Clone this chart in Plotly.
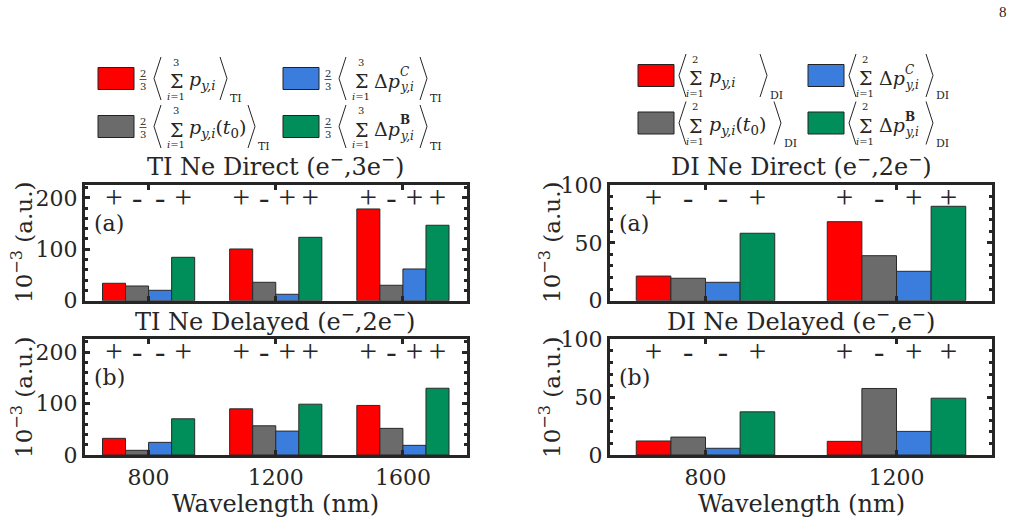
import plotly.graph_objects as go

W, H = 1018, 525
FONT = "DejaVu Serif"
SIGNFONT = "Liberation Serif"
TXT = "#262626"
FR = "#262626"

# ---------------- data ----------------
wl_ti = [800, 1200, 1600]
wl_di = [800, 1200]

ti_direct_total = [33.9, 100.6, 178.4]
ti_direct_t0 = [28.6, 35.8, 30.0]
ti_direct_dpc = [20.2, 12.5, 61.7]
ti_direct_dpb = [84.4, 123.3, 146.7]

ti_delayed_total = [32.4, 89.8, 96.4]
ti_delayed_t0 = [9.1, 56.8, 51.8]
ti_delayed_dpc = [24.6, 46.5, 18.8]
ti_delayed_dpb = [70.4, 98.8, 129.8]

di_direct_total = [21.3, 68.3]
di_direct_t0 = [19.4, 38.9]
di_direct_dpc = [15.9, 25.4]
di_direct_dpb = [58.3, 81.6]

di_delayed_total = [12.1, 11.8]
di_delayed_t0 = [15.5, 57.5]
di_delayed_dpc = [5.8, 20.4]
di_delayed_dpb = [37.3, 49.1]

# sign of each series at each wavelength (series order: total, t0, dpC, dpB)
ti_signs = [["+", "-", "-", "+"], ["+", "-", "+", "+"], ["+", "-", "+", "+"]]
di_signs = [["+", "-", "-", "+"], ["+", "-", "+", "+"]]

series_colors = ["#ff0000", "#6b6b6b", "#3b7ddd", "#008f5a"]

titles = ["TI Ne Direct (e<sup>\u2212</sup>,3e<sup>\u2212</sup>)",
          "TI Ne Delayed (e<sup>\u2212</sup>,2e<sup>\u2212</sup>)",
          "DI Ne Direct (e<sup>\u2212</sup>,2e<sup>\u2212</sup>)",
          "DI Ne Delayed (e<sup>\u2212</sup>,e<sup>\u2212</sup>)"]

BARGAP = 0.275
fig = go.Figure()

panels = [
    ("x", "y", wl_ti, [ti_direct_total, ti_direct_t0, ti_direct_dpc, ti_direct_dpb], ti_signs, 196),
    ("x2", "y2", wl_ti, [ti_delayed_total, ti_delayed_t0, ti_delayed_dpc, ti_delayed_dpb], ti_signs, 196),
    ("x3", "y3", wl_di, [di_direct_total, di_direct_t0, di_direct_dpc, di_direct_dpb], di_signs, 87),
    ("x4", "y4", wl_di, [di_delayed_total, di_delayed_t0, di_delayed_dpc, di_delayed_dpb], di_signs, 87),
]

for xa, ya, wl, series, signs, sy in panels:
    for k, vals in enumerate(series):
        fig.add_trace(go.Bar(x=wl, y=vals, xaxis=xa, yaxis=ya,
                             marker=dict(color=series_colors[k], line=dict(color="#2a2a2a", width=1)),
                             showlegend=False, hoverinfo="skip"))
    # sign labels above each bar, positioned from the grouped-bar geometry
    spacing = min(b - a for a, b in zip(wl[:-1], wl[1:]))
    bw = spacing * (1 - BARGAP) / 4
    sx, st = [], []
    for i, w in enumerate(wl):
        for k in range(4):
            sx.append(w + (k - 1.5) * bw)
            st.append(signs[i][k])
    fig.add_trace(go.Scatter(x=sx, y=[sy] * len(sx), text=st, mode="text",
                             textfont=dict(family=SIGNFONT, size=31, color=TXT),
                             xaxis=xa, yaxis=ya, showlegend=False, hoverinfo="skip"))


def px_x(p):
    return p / W


def px_y(p):
    return 1 - p / H


TIX = [px_x(85), px_x(466.5)]
DIX = [px_x(610), px_x(992)]
TOP = [px_y(300.7), px_y(185)]
BOT = [px_y(455), px_y(339.3)]

axis_common = dict(showline=True, linewidth=3, linecolor=FR, mirror="ticks", ticks="inside",
                   tickwidth=3, ticklen=5, tickcolor=FR, showgrid=False, zeroline=False,
                   automargin=False, tickfont=dict(family=FONT, size=22, color=TXT))

layout = dict(
    width=W, height=H, margin=dict(l=0, r=0, t=0, b=0, pad=0, autoexpand=False),
    paper_bgcolor="white", plot_bgcolor="white",
    barmode="group", bargap=BARGAP, bargroupgap=0, hovermode=False, showlegend=False,
    xaxis=dict(domain=TIX, anchor="y", range=[600, 1800], tickvals=wl_ti, showticklabels=False, **axis_common),
    xaxis2=dict(domain=TIX, anchor="y2", range=[600, 1800], tickvals=wl_ti, ticklabelstandoff=1, **axis_common),
    xaxis3=dict(domain=DIX, anchor="y3", range=[600, 1400], tickvals=wl_di, showticklabels=False, **axis_common),
    xaxis4=dict(domain=DIX, anchor="y4", range=[600, 1400], tickvals=wl_di, ticklabelstandoff=1, **axis_common),
    yaxis=dict(domain=TOP, anchor="x", range=[0, 225], dtick=100,
               minor=dict(dtick=20, ticks="inside", ticklen=3, tickwidth=3, tickcolor=FR), **axis_common),
    yaxis2=dict(domain=BOT, anchor="x2", range=[0, 225], dtick=100,
                minor=dict(dtick=20, ticks="inside", ticklen=3, tickwidth=3, tickcolor=FR), **axis_common),
    yaxis3=dict(domain=TOP, anchor="x3", range=[0, 100], dtick=50,
                minor=dict(dtick=10, ticks="inside", ticklen=3, tickwidth=3, tickcolor=FR), **axis_common),
    yaxis4=dict(domain=BOT, anchor="x4", range=[0, 100], dtick=50,
                minor=dict(dtick=10, ticks="inside", ticklen=3, tickwidth=3, tickcolor=FR), **axis_common),
)

annotations = []
shapes = []


def ann(x, y, text, size, xanchor="center", yanchor="middle", angle=0, family=FONT):
    annotations.append(dict(x=px_x(x), y=px_y(y), xref="paper", yref="paper", text=text,
                            showarrow=False, xanchor=xanchor, yanchor=yanchor, textangle=angle,
                            borderpad=0, font=dict(family=family, size=size, color=TXT)))


def line(x0, y0, x1, y1, w=1.0, color=TXT):
    shapes.append(dict(type="line", xref="paper", yref="paper", x0=px_x(x0), y0=px_y(y0),
                       x1=px_x(x1), y1=px_y(y1), line=dict(color=color, width=w)))


# subplot titles
ann(275, 165, titles[0], 24)
ann(275, 320, titles[1], 24)
ann(801, 165, titles[2], 24)
ann(801, 320, titles[3], 24)

# y-axis titles
ytitle = "10<sup>\u22123</sup> (a.u.)"
ann(22, 243, ytitle, 23, angle=-90)
ann(22, 398, ytitle, 23, angle=-90)
ann(550, 243, ytitle, 23, angle=-90)
ann(550, 398, ytitle, 23, angle=-90)

# x-axis titles
ann(275, 504, "Wavelength (nm)", 24)
ann(801, 504, "Wavelength (nm)", 24)

# panel labels
ann(93, 223, "(a)", 22, xanchor="left")
ann(93, 377, "(b)", 22, xanchor="left")
ann(618, 223, "(a)", 22, xanchor="left")
ann(618, 377, "(b)", 22, xanchor="left")

# page number
ann(1003, 12, "8", 15, family="Liberation Serif")


# ---------------- legends ----------------
def bracket(x, yc, opening=True, h=21.5, w=7):
    if opening:
        line(x + w, yc - h, x, yc, 1)
        line(x, yc, x + w, yc + h, 1)
    else:
        line(x, yc - h, x + w, yc, 1)
        line(x + w, yc, x, yc + h, 1)


def legend_entry(x0, yc, color, frac, n, body, supsub, close_dx, sub):
    shapes.append(dict(type="rect", xref="paper", yref="paper", x0=px_x(x0), x1=px_x(x0 + 36),
                       y0=px_y(yc + 11), y1=px_y(yc - 11), fillcolor=color,
                       line=dict(color="#222222", width=1)))
    if frac:
        ann(x0 + 45, yc - 5.5, "2", 10)
        ann(x0 + 45, yc + 7.5, "3", 10)
        line(x0 + 41.5, yc + 1, x0 + 48.5, yc + 1, 0.8)
        bx, sx, bodyx = x0 + 56, x0 + 78, x0 + 90
    else:
        bx, sx, bodyx = x0 + 41, x0 + 57, x0 + 70
    bracket(bx, yc, True)
    ann(sx, yc + 3, "\u03a3", 19)
    ann(sx, yc - 16, str(n), 10)
    ann(sx, yc + 18, "<i>i</i>=1", 10)
    ann(bodyx, yc + 2, body, 19, xanchor="left")
    if supsub is not None:
        dx, sup = supsub
        ann(bodyx + dx, yc - 6, sup, 12, xanchor="left")
        ann(bodyx + dx, yc + 9, "<i>y,i</i>", 12, xanchor="left")
    bracket(x0 + close_dx, yc, False)
    ann(x0 + close_dx + 9, yc + 20, sub, 11, xanchor="left")


body_p = "<i>p</i><sub><i>y,i</i></sub>"
body_pt0 = "<i>p</i><sub><i>y,i</i></sub>(<i>t</i><sub>0</sub>)"
body_dp = "\u0394<i>p</i>"

# TI legend
legend_entry(98, 78.5, series_colors[0], True, 3, body_p, None, 122, "TI")
legend_entry(98, 126.5, series_colors[1], True, 3, body_pt0, None, 150, "TI")
legend_entry(283, 78.5, series_colors[2], True, 3, body_dp, (26, "<i>C</i>"), 137, "TI")
legend_entry(283, 126.5, series_colors[3], True, 3, body_dp, (26, "<b>B</b>"), 137, "TI")
# DI legend
legend_entry(638, 75.5, series_colors[0], False, 2, body_p, None, 122, "DI")
legend_entry(638, 123, series_colors[1], False, 2, body_pt0, None, 136, "DI")
legend_entry(808, 75.5, series_colors[2], False, 2, body_dp, (26, "<i>C</i>"), 118, "DI")
legend_entry(808, 123, series_colors[3], False, 2, body_dp, (26, "<b>B</b>"), 118, "DI")

layout["annotations"] = annotations
layout["shapes"] = shapes
fig.update_layout(**layout)
fig.write_html("out.html")
